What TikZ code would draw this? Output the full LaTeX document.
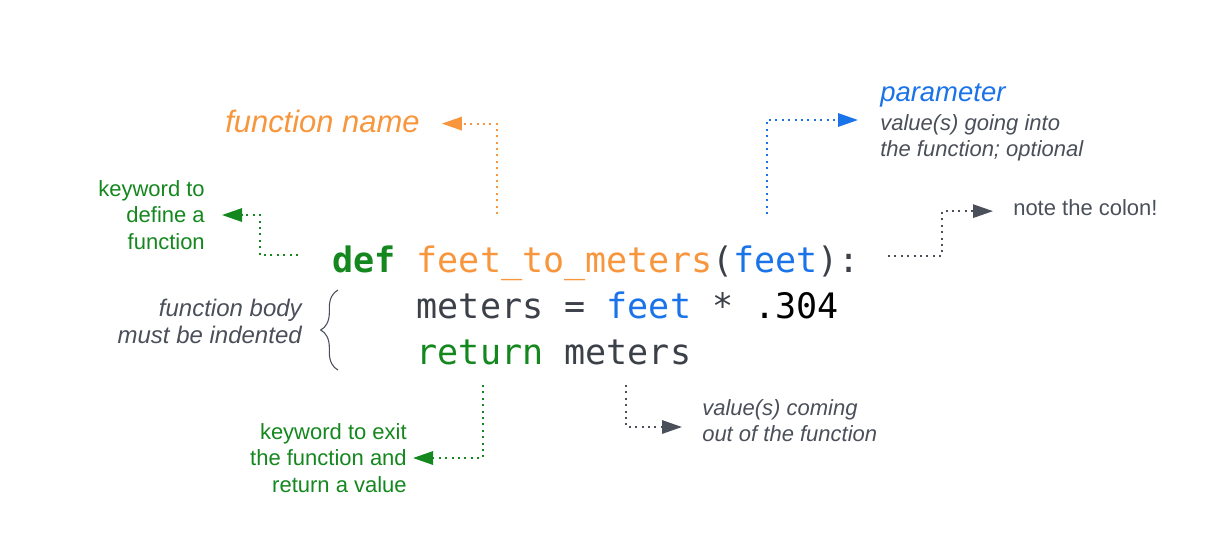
\documentclass[tikz,border=0pt]{standalone}
\usepackage{fontspec}
\setsansfont{Liberation Sans}
\newfontfamily\codefont{DejaVu Sans Mono}
\usetikzlibrary{arrows.meta,decorations.pathreplacing}

\definecolor{kwgreen}{RGB}{20,135,30}
\definecolor{fnorange}{RGB}{247,150,60}
\definecolor{parblue}{RGB}{26,115,232}
\definecolor{notegray}{RGB}{74,79,90}
\definecolor{codegray}{RGB}{60,64,72}

\begin{document}
\begin{tikzpicture}[x=0.75pt,y=-0.75pt,
  code/.style={inner sep=0pt, anchor=base west, text=codegray,
    font=\codefont\fontsize{26.3pt}{30pt}\selectfont},
  lbl/.style={inner sep=0pt, font=\sffamily\fontsize{16.5pt}{20pt}\selectfont},
  ilbl/.style={inner sep=0pt, font=\sffamily\itshape\fontsize{16.5pt}{20pt}\selectfont},
  conn/.style={line width=1.5pt, dash pattern=on 1.5pt off 3.3pt,
    -{Triangle[length=15pt,width=10pt]}},
  bracestyle/.style={draw=notegray, line width=0.8pt, decorate,
    decoration={brace, amplitude=13pt}}
]
\useasboundingbox (0,0) rectangle (1211,547);

% the code
\node[code] (l1) at (332,272)
  {\textcolor{kwgreen}{\bfseries def} \textcolor{fnorange}{feet\_to\_meters}(\textcolor{parblue}{feet}):};
\node[code] (l2) at (416.4,318)
  {meters = \textcolor{parblue}{feet} * \textcolor{black}{.304}};
\node[code] (l3) at (416.4,364)
  {\textcolor{kwgreen}{return} meters};

% annotations
\node[ilbl, anchor=base west, text=fnorange,
  font=\sffamily\itshape\fontsize{23.2pt}{28pt}\selectfont] (fnname) at (225,132) {function name};
\node[ilbl, anchor=base west, text=parblue,
  font=\sffamily\itshape\fontsize{20.6pt}{25pt}\selectfont] (param) at (880,101) {parameter};
\node[ilbl, anchor=north west, align=left, text=notegray] (paramdesc) at (880,114)
  {value(s) going into\\the function; optional};
\node[lbl, anchor=north east, align=right, text=kwgreen] (kwdef) at (205,180)
  {keyword to\\define a\\function};
\node[lbl, anchor=base west, text=notegray] (note) at (1013,215) {note the colon!};
\node[ilbl, anchor=north east, align=right, text=notegray,
  font=\sffamily\itshape\fontsize{18pt}{20pt}\selectfont] (body) at (302,299)
  {function body\\must be indented};
\node[lbl, anchor=north east, align=right, text=kwgreen] (kwexit) at (407,423)
  {keyword to exit\\the function and\\return a value};
\node[ilbl, anchor=north west, align=left, text=notegray] (vout) at (702,399)
  {value(s) coming\\out of the function};

% connector start points on the code
\coordinate (fnstart) at (497,214);
\coordinate (pstart) at (767,214);
\coordinate (defstart) at (298,255);
\coordinate (colstart) at (888,256);
\coordinate (retstart) at (483,385);
\coordinate (outstart) at (626,385);

% connectors
\draw[conn, fnorange, shorten >=16.5pt] (fnstart) |- ([yshift=-2pt]fnname.east);
\draw[conn, parblue, shorten >=16.5pt] (pstart) |- ([yshift=-4.5pt]paramdesc.north west);
\draw[conn, kwgreen, shorten >=12.75pt] (defstart) -- ++(-38,0) |- (kwdef.east);
\draw[conn, notegray, shorten >=15pt] (colstart) -- ++(54,0) |- ([yshift=-3pt]note.west);
\draw[conn, kwgreen, shorten >=4.5pt] (retstart) |- (kwexit.east);
\draw[conn, notegray, shorten >=15pt] (outstart) |- ([yshift=-21pt]vout.north west);

% brace marking the indented body
\draw[bracestyle] (338,370) -- (338,290);
\end{tikzpicture}
\end{document}
